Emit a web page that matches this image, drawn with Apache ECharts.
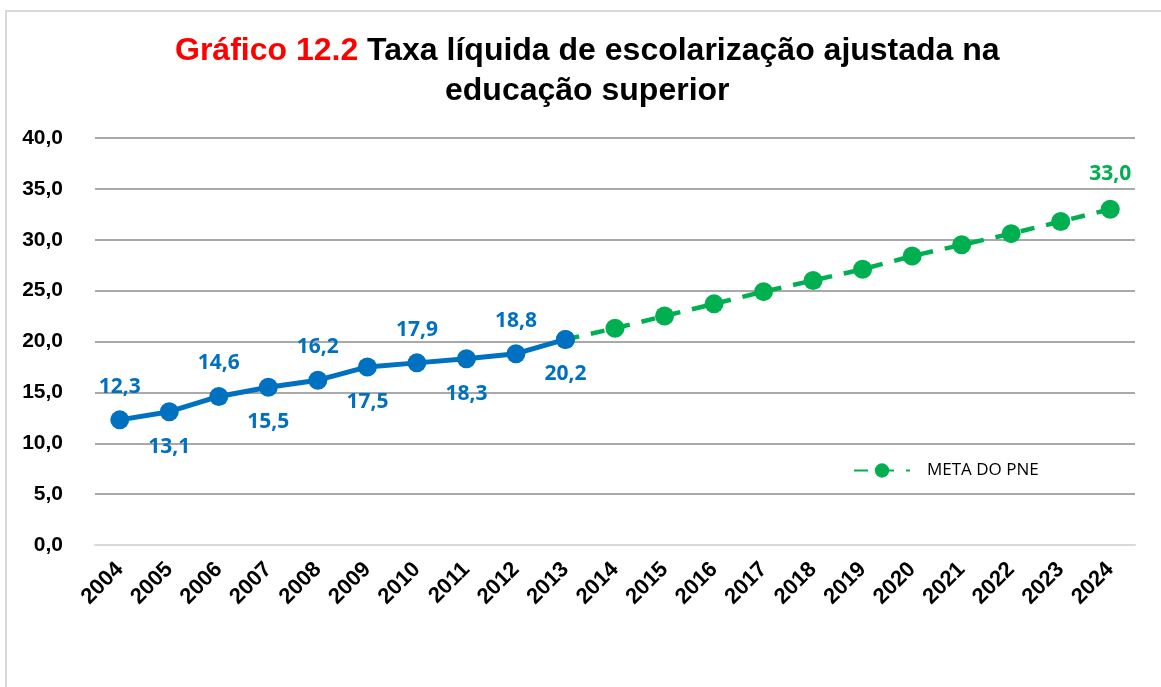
<!DOCTYPE html>
<html>
<head>
<meta charset="utf-8">
<script src="https://cdn.jsdelivr.net/npm/echarts@6/dist/echarts.min.js"></script>
<style>
  html, body { margin: 0; padding: 0; background: #fff; }
  #frame { position: absolute; left: 5px; top: 10px; width: 1200px; height: 720px; border: 2px solid #d9d9d9; box-sizing: border-box; }
  #chart { position: absolute; left: 0; top: 0; width: 1161px; height: 687px; }
</style>
</head>
<body>
<div id="frame"></div>
<div id="chart"></div>
<script>
// anos
const years = ['2004','2005','2006','2007','2008','2009','2010','2011','2012','2013','2014',
  '2015','2016','2017','2018','2019','2020','2021','2022','2023','2024'];
// taxa observada 2004-2013
const observed = [12.3, 13.1, 14.6, 15.5, 16.2, 17.5, 17.9, 18.3, 18.8, 20.2];
// meta do PNE 2013-2024
const metaYears = ['2013','2014','2015','2016','2017','2018','2019','2020','2021','2022','2023','2024'];
const meta = [20.2, 21.3, 22.5, 23.7, 24.9, 26.0, 27.1, 28.4, 29.5, 30.6, 31.8, 33.0];
const yTicks = [0, 5, 10, 15, 20, 25, 30, 35, 40];

const fmt = v => v.toFixed(1).replace('.', ',');

const chart = echarts.init(document.getElementById('chart'));

const blueData = years.map((y, i) => {
  if (i >= observed.length) return null;
  return {
    value: observed[i],
    label: { position: i % 2 === 0 ? 'top' : 'bottom', distance: i % 2 === 0 ? 13 : 15 }
  };
});
const greenData = years.map(y => {
  const k = metaYears.indexOf(y);
  if (k < 0) return null;
  return {
    value: meta[k],
    label: { show: k === meta.length - 1 }
  };
});

const titleFont = { fontFamily: 'Liberation Sans', fontSize: 32, fontWeight: 'bold', color: '#000' };

const option = {
  animation: false,
  title: [
    {
      text: '{r|Gráfico 12.2} Taxa líquida de escolarização ajustada na',
      left: 175,
      top: 35,
      padding: 0,
      textStyle: Object.assign({}, titleFont, {
        rich: { r: Object.assign({}, titleFont, { color: '#ff0000' }) }
      })
    },
    {
      text: 'educação superior',
      left: 445,
      top: 75,
      padding: 0,
      textStyle: titleFont
    }
  ],
  legend: {
    data: ['META DO PNE'],
    left: 848,
    top: 457,
    itemWidth: 56,
    itemHeight: 18,
    itemGap: 10,
    textStyle: { fontFamily: 'Open Sans', fontSize: 17, color: '#000', padding: [0, 0, 0, 12] }
  },
  grid: { left: 95, right: 26, top: 138, bottom: 142 },
  xAxis: {
    type: 'category',
    data: years,
    boundaryGap: true,
    axisLine: { show: true, lineStyle: { color: '#d9d9d9', width: 2 } },
    axisTick: { show: false },
    axisLabel: {
      rotate: 45,
      interval: 0,
      margin: 21,
      fontFamily: 'Liberation Sans',
      fontSize: 22,
      fontWeight: 'bold',
      color: '#000'
    }
  },
  yAxis: {
    type: 'value',
    min: yTicks[0],
    max: yTicks[yTicks.length - 1],
    interval: 5,
    axisLine: { show: false },
    axisTick: { show: false },
    splitLine: { lineStyle: { color: ['#d9d9d9', '#8c8c8c', '#8c8c8c', '#8c8c8c', '#8c8c8c', '#8c8c8c', '#8c8c8c', '#8c8c8c', '#8c8c8c'], width: 1.5 } },
    axisLabel: {
      margin: 32,
      fontFamily: 'Liberation Sans',
      fontSize: 21,
      fontWeight: 'bold',
      color: '#000',
      formatter: fmt
    }
  },
  series: [
    {
      name: 'META DO PNE',
      type: 'line',
      data: greenData,
      z: 2,
      symbol: 'circle',
      symbolSize: 19,
      color: '#00b050',
      lineStyle: { color: '#00b050', width: 4.5, type: [14, 12] },
      itemStyle: { color: '#00b050' },
      label: {
        show: false,
        position: 'top',
        distance: 15,
        formatter: p => fmt(p.value),
        fontFamily: 'Open Sans',
        fontSize: 21,
        fontWeight: 'bold',
        color: '#00b050'
      }
    },
    {
      name: 'Taxa',
      type: 'line',
      data: blueData,
      z: 3,
      symbol: 'circle',
      symbolSize: 19,
      color: '#0070c0',
      lineStyle: { color: '#0070c0', width: 5 },
      itemStyle: { color: '#0070c0' },
      label: {
        show: true,
        formatter: p => fmt(p.value),
        fontFamily: 'Open Sans',
        fontSize: 21,
        fontWeight: 'bold',
        color: '#0070c0'
      }
    }
  ]
};

chart.setOption(option);
</script>
</body>
</html>
